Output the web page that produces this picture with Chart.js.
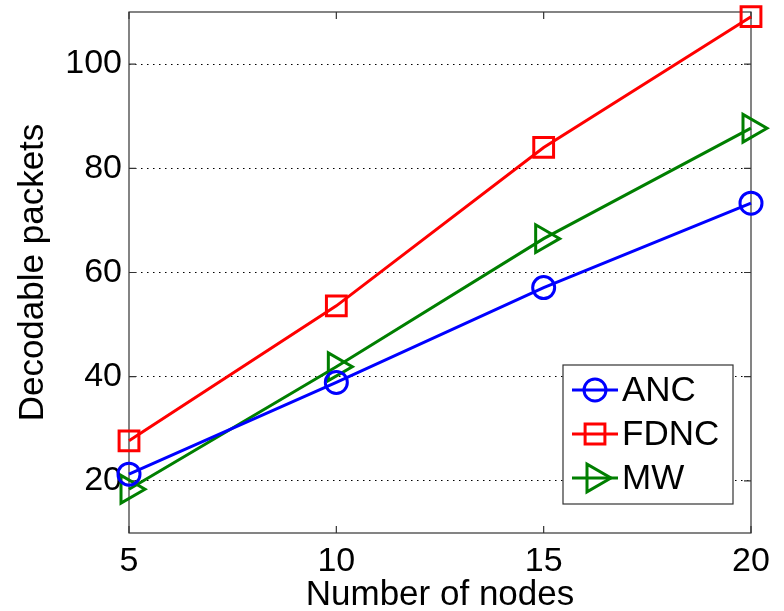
<!DOCTYPE html>
<html>
<head>
<meta charset="utf-8">
<script src="https://cdn.jsdelivr.net/npm/chart.js@4.4.1/dist/chart.umd.min.js"></script>
<style>
  html, body { margin: 0; padding: 0; background: #fff; }
  #wrap { width: 784px; height: 611px; position: relative; }
</style>
</head>
<body>
<div id="wrap"><canvas id="packetsChart"></canvas></div>
<script>
// data
var nodeCounts = [5, 10, 15, 20];
var ancValues = [21.3, 38.9, 57.1, 73.3];
var fdncValues = [27.7, 53.6, 84.0, 109.1];
var mwValues = [18.4, 41.9, 66.5, 87.7];
var xTickValues = [5, 10, 15, 20];
var yTickValues = [20, 40, 60, 80, 100];
var seriesNames = ["ANC", "FDNC", "MW"];

var FONT = "'Liberation Sans', Arial, Helvetica, sans-serif";

function toPoints(vals) {
    return nodeCounts.map(function(x, i) { return { x: x, y: vals[i] }; });
}

// box round the plot area plus inward tick marks (matlab style)
var framePlugin = {
    id: 'frame',
    beforeDatasetsDraw: function(chart) {
        var ctx = chart.ctx, a = chart.chartArea;
        var xs = chart.scales.x, ys = chart.scales.y;
        ctx.save();
        ctx.strokeStyle = '#333';
        ctx.lineWidth = 1.2;
        ctx.strokeRect(a.left, a.top, a.right - a.left, a.bottom - a.top);
        ctx.beginPath();
        xTickValues.forEach(function(v) {
            var px = xs.getPixelForValue(v);
            ctx.moveTo(px, a.bottom); ctx.lineTo(px, a.bottom - 7);
            ctx.moveTo(px, a.top); ctx.lineTo(px, a.top + 7);
        });
        yTickValues.forEach(function(v) {
            var py = ys.getPixelForValue(v);
            ctx.moveTo(a.left, py); ctx.lineTo(a.left + 7, py);
            ctx.moveTo(a.right, py); ctx.lineTo(a.right - 7, py);
        });
        ctx.stroke();
        ctx.restore();
    }
};

// legend box inside the plot, lower right
var legendPlugin = {
    id: 'boxLegend',
    afterDraw: function(chart) {
        var ctx = chart.ctx;
        var bx = 563, by = 365, bw = 170, bh = 139;
        ctx.save();
        ctx.fillStyle = '#fff';
        ctx.fillRect(bx, by, bw, bh);
        ctx.strokeStyle = '#333';
        ctx.lineWidth = 1.2;
        ctx.strokeRect(bx, by, bw, bh);
        chart.data.datasets.forEach(function(ds, i) {
            var cy = by + 25 + i * 44;
            ctx.strokeStyle = ds.borderColor;
            ctx.lineWidth = 3;
            ctx.beginPath();
            ctx.moveTo(572, cy); ctx.lineTo(618, cy);
            ctx.stroke();
            ctx.strokeStyle = ds.pointBorderColor;
            ctx.fillStyle = 'rgba(0,0,0,0)';
            ctx.lineWidth = 3;
            Chart.helpers.drawPoint(ctx, {
                pointStyle: ds.pointStyle,
                rotation: ds.pointRotation || 0,
                radius: ds.pointRadius,
                borderWidth: 3
            }, 595, cy);
            ctx.fillStyle = '#000';
            ctx.font = '35px ' + FONT;
            ctx.textBaseline = 'middle';
            ctx.textAlign = 'left';
            ctx.fillText(ds.label, 622, cy + 1);
        });
        ctx.restore();
    }
};

var ctx = document.getElementById('packetsChart');
var chart = new Chart(ctx, {
    type: 'line',
    data: {
        datasets: [{
            label: seriesNames[0],
            data: toPoints(ancValues),
            borderColor: '#0000ff',
            backgroundColor: 'rgba(0,0,0,0)',
            borderWidth: 3,
            pointStyle: 'circle',
            pointRadius: 11,
            pointBorderWidth: 3,
            pointBackgroundColor: 'rgba(0,0,0,0)',
            pointBorderColor: '#0000ff',
            clip: false
        }, {
            label: seriesNames[1],
            data: toPoints(fdncValues),
            borderColor: '#ff0000',
            backgroundColor: 'rgba(0,0,0,0)',
            borderWidth: 3,
            pointStyle: 'rect',
            pointRadius: 14,
            pointBorderWidth: 3,
            pointBackgroundColor: 'rgba(0,0,0,0)',
            pointBorderColor: '#ff0000',
            clip: false
        }, {
            label: seriesNames[2],
            data: toPoints(mwValues),
            borderColor: '#007f00',
            backgroundColor: 'rgba(0,0,0,0)',
            borderWidth: 3,
            pointStyle: 'triangle',
            pointRotation: 90,
            pointRadius: 16,
            pointBorderWidth: 3,
            pointBackgroundColor: 'rgba(0,0,0,0)',
            pointBorderColor: '#007f00',
            clip: false
        }]
    },
    options: {
        responsive: true,
        maintainAspectRatio: false,
        animation: false,
        events: [],
        layout: {
            autoPadding: false,
            padding: { top: 12, right: 33, left: 0, bottom: 0 }
        },
        scales: {
            x: {
                type: 'linear',
                min: 5,
                max: 20,
                afterBuildTicks: function(axis) {
                    axis.ticks = xTickValues.map(function(v) { return { value: v }; });
                },
                afterFit: function(axis) {
                    axis.height = 78;
                    axis.paddingLeft = 0;
                    axis.paddingRight = 0;
                },
                grid: { display: false, drawTicks: false },
                border: { display: false },
                ticks: {
                    color: '#000',
                    padding: 8,
                    maxRotation: 0,
                    font: { family: FONT, size: 34 }
                },
                title: {
                    display: true,
                    text: 'Number of nodes',
                    color: '#000',
                    padding: { top: 0, bottom: 0 },
                    font: { family: FONT, size: 35, lineHeight: 0.9 }
                }
            },
            y: {
                type: 'linear',
                min: 10,
                max: 110,
                afterBuildTicks: function(axis) {
                    axis.ticks = yTickValues.map(function(v) { return { value: v }; });
                },
                afterFit: function(axis) {
                    axis.width = 129;
                    axis.paddingTop = 0;
                    axis.paddingBottom = 0;
                },
                grid: {
                    color: '#000',
                    lineWidth: 1,
                    drawTicks: false
                },
                border: { display: false, dash: [1.5, 4.5] },
                ticks: {
                    color: '#000',
                    padding: 7,
                    font: { family: FONT, size: 34 }
                },
                title: {
                    display: true,
                    text: 'Decodable packets',
                    color: '#000',
                    padding: { top: 12, bottom: 0 },
                    font: { family: FONT, size: 35 }
                }
            }
        },
        plugins: {
            legend: { display: false },
            tooltip: { enabled: false }
        }
    },
    plugins: [framePlugin, legendPlugin]
});
</script>
</body>
</html>
